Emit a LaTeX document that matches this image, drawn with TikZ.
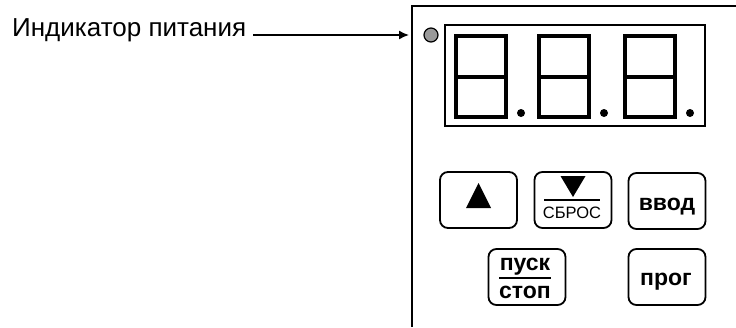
\documentclass[tikz,border=0pt]{standalone}
\usepackage{fontspec}
\setmainfont{Liberation Sans}
\usepackage{tikz}
\usetikzlibrary{arrows.meta}

\tikzset{
  btn/.style={draw, line width=1.8pt, rounded corners=8pt, minimum width=77pt, minimum height=56pt, inner sep=0pt},
  btntext/.style={font=\bfseries\fontsize{23}{23}\selectfont, inner sep=0pt},
  segment/.style={line width=4pt}
}

\begin{document}
\begin{tikzpicture}[x=1pt,y=-1pt]
  % bounding rectangle
  \useasboundingbox (0,0) rectangle (736,327);
  % panel edges (cut off at right and bottom)
  \draw[line width=2pt] (412,327) -- (412,6) -- (736,6);
  % power indicator and its label
  \node[circle, draw, fill=black!40, line width=1.2pt, minimum size=14pt, inner sep=0pt] (led) at (431,35) {};
  \node[anchor=base west, inner sep=0pt, inner xsep=7pt, font=\fontsize{26}{26}\selectfont] (label) at (5,36.5) {Индикатор питания};
  \coordinate (arrowend) at (409,35);
  \draw[line width=1.5pt, -{Latex[length=10pt,width=9pt]}] (label.east |- arrowend) -- (arrowend);

  % display window
  \draw[line width=1.5pt] (445,25) rectangle (705,126);
  \foreach \x in {456, 539, 625} {
    \draw[segment] (\x,36) rectangle +(50,81);
    \draw[segment] (\x,76.5) -- +(50,0);
    \fill[black] (\x+65,113) circle (4);
  }

  % keys, upper row
  \node[btn] (up) at (478.5,200) {};
  \fill[black] ([shift={(0,-17)}]up.center) -- ([shift={(12.5,8)}]up.center) -- ([shift={(-12.5,8)}]up.center) -- cycle;
  \node[btn] (down) at (573,200) {};
  \fill[black] ([shift={(-12.5,-24)}]down.center) -- ([shift={(12.5,-24)}]down.center) -- ([shift={(0,-3)}]down.center) -- cycle;
  \draw[line width=1.3pt] ([shift={(-29,0)}]down.center) -- ([shift={(27,0)}]down.center);
  \node[inner sep=0pt, font=\fontsize{16.5}{16.5}\selectfont] (reset) at ([shift={(-1,13)}]down.center) {СБРОС};
  \node[btn] (enter) at (667,201) {};
  \node[btntext, anchor=base] (entertext) at (667,210) {ввод};

  % keys, lower row
  \node[btn] (start) at (527,277) {};
  \node[btntext, anchor=base] (starttext) at (525,270) {пуск};
  \draw[line width=1.3pt] (499,278) -- (551,278);
  \node[btntext, anchor=base] (stoptext) at (525,298) {стоп};
  \node[btn] (prog) at (667,277) {};
  \node[btntext, anchor=base] (progtext) at (666,285) {прог};
\end{tikzpicture}
\end{document}
